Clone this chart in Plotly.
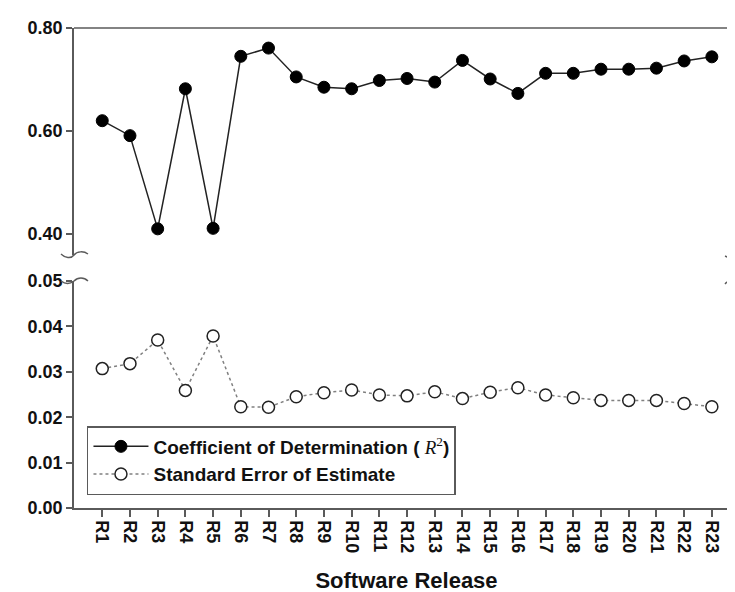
import plotly.graph_objects as go

releases = [f"R{i}" for i in range(1, 24)]
r_squared = [0.620, 0.591, 0.410, 0.682, 0.411, 0.745, 0.761, 0.705, 0.685, 0.682,
             0.698, 0.702, 0.695, 0.737, 0.701, 0.673, 0.712, 0.712, 0.720, 0.720,
             0.722, 0.736, 0.744]
std_err = [0.0307, 0.0318, 0.0370, 0.0259, 0.0379, 0.0223, 0.0222, 0.0245, 0.0254, 0.0260,
           0.0249, 0.0247, 0.0256, 0.0241, 0.0255, 0.0265, 0.0249, 0.0243, 0.0237, 0.0237,
           0.0237, 0.0230, 0.0223]

FONT = "Liberation Sans, Arial, sans-serif"
AX = "#5a5a5a"
TXT = "#111111"

# plot area in pixels (for decoration placement)
L, R, T, B = 66, 733, 20, 500
W, H = R - L, B - T
top_bottom_px = 247
bot_top_px = 273


def px(x):
    return (x - L) / W


def py(y):
    return (B - y) / H


fig = go.Figure()
fig.add_trace(go.Scatter(
    x=releases, y=r_squared, yaxis="y", mode="lines+markers",
    name='Coefficient of Determination ( <span style="font-family:Liberation Serif;font-weight:normal"><i>R</i><sup>2</sup></span>)',
    line=dict(color="#222222", width=1.5),
    marker=dict(symbol="circle", size=12, color="black", line=dict(color="black", width=1)),
))
fig.add_trace(go.Scatter(
    x=releases, y=std_err, yaxis="y2", mode="lines+markers",
    name="Standard Error of Estimate",
    line=dict(color="#808080", width=1.5, dash="dot"),
    marker=dict(symbol="circle", size=12, color="white", line=dict(color="#222222", width=1.5)),
))

top_lo = 0.80 - (top_bottom_px - T) / 515.0

fig.update_layout(
    width=735, height=592,
    margin=dict(l=L, r=735 - R, t=T, b=592 - B),
    paper_bgcolor="white", plot_bgcolor="white",
    font=dict(family=FONT, color=TXT, size=18),
    showlegend=True,
    xaxis=dict(
        type="category", range=[-1.02, 22.98], anchor="y2",
        showline=True, linecolor=AX, linewidth=1.5,
        ticks="outside", ticklen=7, tickwidth=1.5, tickcolor=AX,
        tickangle=90, showgrid=False, zeroline=False,
        tickfont=dict(family=FONT, size=18, weight="bold", color=TXT),
        title=dict(text="Software Release", standoff=20,
                   font=dict(family=FONT, size=22, weight="bold", color=TXT)),
    ),
    yaxis=dict(
        domain=[py(top_bottom_px), 1.0], range=[top_lo, 0.80],
        tickvals=[0.40, 0.60, 0.80], tickformat=".2f",
        showline=True, mirror=True, linecolor=AX, linewidth=1.5,
        ticks="outside", ticklen=6, tickwidth=1.5, tickcolor=AX,
        showgrid=False, zeroline=False,
        tickfont=dict(family=FONT, size=18, weight="bold", color=TXT),
    ),
    yaxis2=dict(
        domain=[0.0, py(bot_top_px)], range=[0.0, 0.05],
        tickvals=[0.00, 0.01, 0.02, 0.03, 0.04, 0.05], tickformat=".2f",
        showline=True, mirror=True, linecolor=AX, linewidth=1.5,
        ticks="outside", ticklen=6, tickwidth=1.5, tickcolor=AX,
        showgrid=False, zeroline=False,
        tickfont=dict(family=FONT, size=18, weight="bold", color=TXT),
    ),
    legend=dict(
        x=px(79), y=py(487), xanchor="left", yanchor="bottom",
        bgcolor="white", bordercolor=AX, borderwidth=1.5,
        font=dict(family=FONT, size=19, weight="bold", color=TXT),
        itemwidth=55, tracegroupgap=0,
    ),
)

# top border of the frame
fig.add_shape(type="line", xref="paper", yref="paper", x0=0, x1=1, y0=1, y1=1,
              line=dict(color=AX, width=1.5))


def path(pts):
    s = f"M {px(pts[0][0])},{py(pts[0][1])}"
    for i in range(1, len(pts), 3):
        a, b, c = pts[i], pts[i + 1], pts[i + 2]
        s += f" C {px(a[0])},{py(a[1])} {px(b[0])},{py(b[1])} {px(c[0])},{py(c[1])}"
    return s


breaks = [
    # left, lower end of top panel
    [(53, 246), (57, 250), (63, 251), (66, 247), (69, 243), (76, 243), (80, 246)],
    # left, upper end of bottom panel
    [(53, 273), (57, 276), (62, 276), (66, 273), (70, 269), (76, 269), (80, 273)],
    # right, lower end of top panel
    [(733, 247), (732, 251), (725, 251), (719, 248)],
    # right, upper end of bottom panel
    [(719, 276), (722, 272), (731, 271), (733, 273)],
]
for pts in breaks:
    fig.add_shape(type="path", xref="paper", yref="paper", path=path(pts),
                  line=dict(color=AX, width=1.5))

fig.write_html("out.html")
